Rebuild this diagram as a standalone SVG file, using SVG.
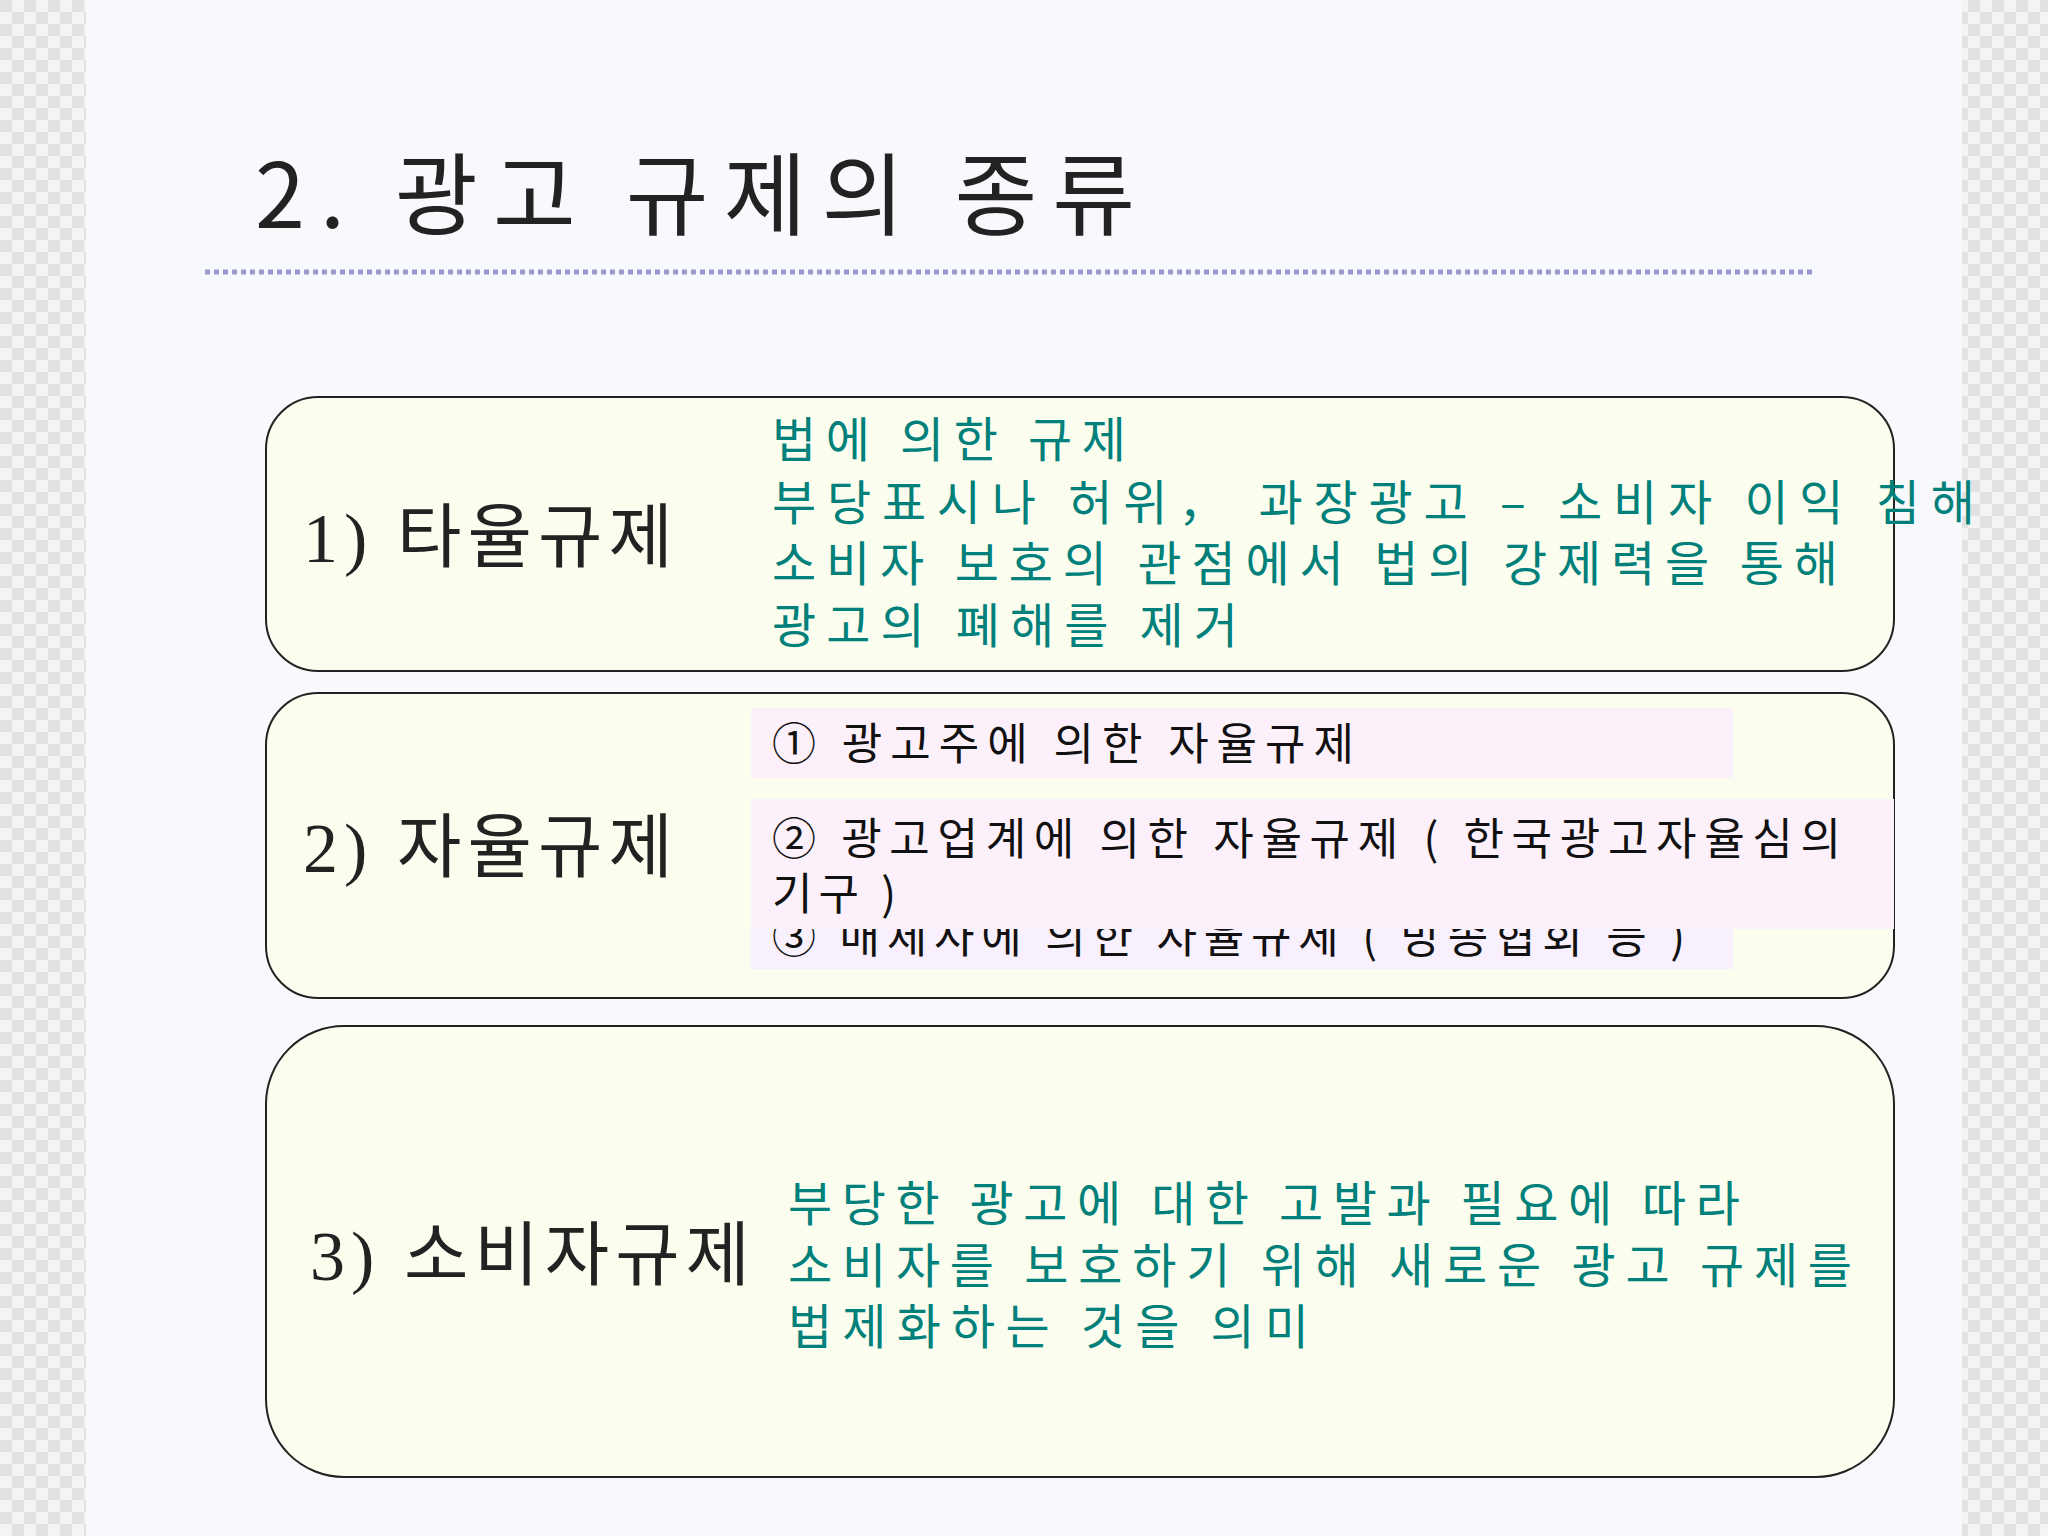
<svg xmlns="http://www.w3.org/2000/svg" width="2048" height="1536" viewBox="0 0 2048 1536">
<defs>
<pattern id="chk" width="24" height="24" patternUnits="userSpaceOnUse"><rect width="24" height="24" fill="#f4f4f4"/><rect width="12" height="12" fill="#e2e2e2"/><rect x="12" y="12" width="12" height="12" fill="#e2e2e2"/></pattern>
<style>
.box{fill:#fbfdee;stroke:#222;stroke-width:2}
.lbl{font-family:"Liberation Serif","Noto Sans CJK KR",serif;font-size:70px;fill:#222}
.teal{font-family:"Noto Sans CJK KR",sans-serif;font-size:48px;fill:#00807a}
.blk{font-family:"Noto Sans CJK KR",sans-serif;font-size:44px;fill:#111}
</style>
</defs>
<rect width="2048" height="1536" fill="#f8f9fc"/>
<rect x="0" y="0" width="86" height="1536" fill="url(#chk)"/>
<rect x="1962" y="0" width="86" height="1536" fill="url(#chk)"/>
<g id="title"><text x="255" y="228" font-family="Noto Sans CJK KR,sans-serif" font-size="90" fill="#222" textLength="880">2. 광고 규제의 종류</text>
<line x1="205" y1="272" x2="1815" y2="272" stroke="#9a9ad0" stroke-width="5" stroke-dasharray="5,4"/></g>
<g id="node1">
<rect class="box" x="266" y="397" width="1628" height="274" rx="52"/>
<text class="lbl" x="303" y="562" textLength="370">1) 타율규제</text>
<text class="teal" x="772" y="457" textLength="354">법에 의한 규제</text>
<text class="teal" x="772" y="520" textLength="1203">부당표시나 허위， 과장광고 – 소비자 이익 침해</text>
<text class="teal" x="772" y="581" textLength="1066">소비자 보호의 관점에서 법의 강제력을 통해</text>
<text class="teal" x="772" y="643" textLength="466">광고의 폐해를 제거</text>
</g>
<g id="node2">
<rect class="box" x="266" y="693" width="1628" height="305" rx="52"/>
<text class="lbl" x="303" y="872" textLength="370">2) 자율규제</text>
<rect x="751" y="708" width="982" height="70" fill="#fcf0fa"/>
<text class="blk" x="772" y="760" textLength="582">① 광고주에 의한 자율규제</text>
<rect x="751" y="900" width="982" height="69" fill="#f8f0fc"/>
<text class="blk" x="772" y="953" textLength="913">③ 매체사에 의한 자율규제 ( 방송협회 등 )</text>
<rect x="751" y="799" width="1143" height="130" fill="#fcf0fa"/>
<text class="blk" x="772" y="855" textLength="1069">② 광고업계에 의한 자율규제 ( 한국광고자율심의</text>
<text class="blk" x="772" y="910" textLength="124">기구 )</text>
</g>
<g id="node3">
<rect class="box" x="266" y="1026" width="1628" height="451" rx="78"/>
<text class="lbl" x="310" y="1280" textLength="440">3) 소비자규제</text>
<text class="teal" x="788" y="1221" textLength="952">부당한 광고에 대한 고발과 필요에 따라</text>
<text class="teal" x="788" y="1283" textLength="1064">소비자를 보호하기 위해 새로운 광고 규제를</text>
<text class="teal" x="788" y="1344" textLength="521">법제화하는 것을 의미</text>
</g>
<g id="connectors"/>
</svg>
